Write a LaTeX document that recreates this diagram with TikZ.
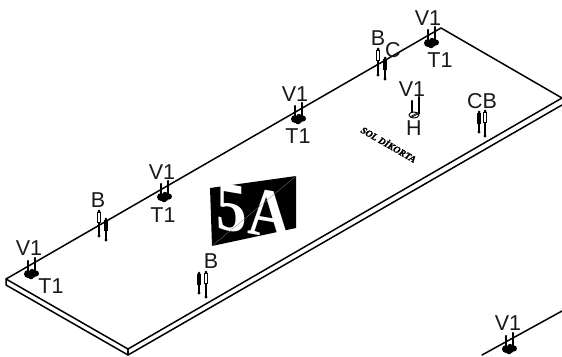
\documentclass[tikz,border=0pt]{standalone}
\usepackage{fontspec}
\setmainfont{Liberation Sans}
\newfontfamily\serifface{Liberation Serif}
\newfontfamily\solface[FakeBold=1.5]{Liberation Serif Bold Italic}
\tikzset{
  edgeline/.style={line width=1.5pt,line cap=round,line join=round},
  lbl/.style={font=\fontsize{21.5}{22}\selectfont,inner sep=0pt,text=black!90},
  pinline/.style={line width=1.2pt},
}
\newcommand{\finpin}[4]{% x, top y, bottom y, capsule fill
  \draw[pinline] (#1,#2) -- (#1,#3);
  \fill (#1,#3) circle (1.7);
  \fill (#1,#2) circle (1.5);
  \draw[line width=.9pt,fill=#4] (#1-1.5,#2+1.5) rectangle (#1+1.5,#2+11);
}
\newcommand{\anchorset}[2]{% x, y of blob
  \draw[pinline] (#1-3,#2-13) -- (#1-3,#2-1);
  \draw[pinline] (#1+4,#2-16) -- (#1+4,#2+1);
  \fill (#1-3,#2-13) circle (1.2);
  \fill (#1+4,#2-16) circle (1.2);
  \fill (#1-3,#2) circle (4);
  \fill (#1+1.5,#2+.5) circle (3.6);
  \fill (#1+5,#2-.5) circle (3);
  \fill (#1,#2+2.5) circle (2.8);
  \fill (#1+1,#2-3) circle (2.2);
}
\begin{document}
\begin{tikzpicture}[x=1pt,y=-1pt]
\useasboundingbox (0,0) rectangle (562,356);
\fill[white] (0,0) rectangle (562,356);
\begin{scope}
\clip (0,0) rectangle (562,356);
% board
\draw[edgeline] (6,279) -- (441,28) -- (562,98) -- (128,349) -- cycle;
\draw[edgeline] (6,279) -- (6,285) -- (128,355) -- (562,105);
\draw[edgeline] (128,349) -- (128,355);
% next board
\draw[edgeline] (482,355) -- (562,311);
% 5A plate
\fill (210,188) -- (296,176) -- (296,228) -- (212,246) -- cycle;
\node[inner sep=0pt,text=white,yslant=-0.17,yscale=1.15,font=\serifface\bfseries\fontsize{61}{61}\selectfont] (plate) at (254,212) {5A};
\draw[gray,line width=.3pt] (212,246) -- (296,176);
% fasteners
\anchorset{31}{274}
\anchorset{164}{197}
\anchorset{298}{119}
\anchorset{431}{43}
\anchorset{509}{349}
\finpin{99}{211}{236}{white}
\finpin{106}{219}{240}{black}
\finpin{199}{273}{293}{black}
\finpin{206}{272}{297}{white}
\finpin{378}{49}{75}{white}
\finpin{385}{58}{79}{black}
\finpin{479}{112}{132}{black}
\finpin{485}{111}{136}{white}
% H fitting
\draw[pinline] (412,101) -- (412,113);
\draw[pinline] (419,97) -- (419,114);
\fill (412,101) circle (1.2);
\fill (419,97) circle (1.2);
\draw[line width=.9pt,fill=white] (414,115) ellipse (5 and 3);
\draw[line width=.7pt] (410,117) -- (417,113);
\draw[line width=.7pt] (412,117) -- (418,114);
\end{scope}
% labels
\node[lbl] (v1a) at (29,248) {V1};
\node[lbl] (t1a) at (51,286) {T1};
\node[lbl] (ba) at (98,200) {B};
\node[lbl] (v1b) at (162,172) {V1};
\node[lbl] (t1b) at (163,215) {T1};
\node[lbl] (bb) at (211,261) {B};
\node[lbl] (v1c) at (295,94) {V1};
\node[lbl] (t1c) at (298,136) {T1};
\node[lbl] (bc) at (378,38) {B};
\node[lbl] (cc) at (393,50) {C};
\node[lbl] (v1d) at (428,18) {V1};
\node[lbl] (t1d) at (440,60) {T1};
\node[lbl] (v1e) at (412,89) {V1};
\node[lbl] (he) at (414,128) {H};
\node[lbl] (cb) at (482,101) {CB};
\node[lbl] (v1f) at (508,323) {V1};
\node[inner sep=0pt,rotate=-30,font=\solface\fontsize{9.5}{10}\selectfont] (sol) at (389,144) {SOL DİKORTA};
\end{tikzpicture}
\end{document}
